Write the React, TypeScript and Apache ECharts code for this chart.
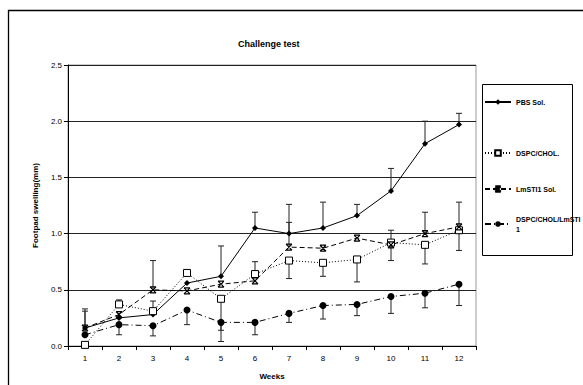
import React, { useEffect, useRef } from "react";
import * as echarts from "echarts";

const weeks = ["1", "2", "3", "4", "5", "6", "7", "8", "9", "10", "11", "12"];
const seriesNames = ["PBS Sol.", "DSPC/CHOL.", "LmSTI1 Sol.", "DSPC/CHOL/LmSTI1"];

const pbs = [0.16, 0.25, 0.28, 0.56, 0.62, 1.05, 1.0, 1.05, 1.16, 1.38, 1.8, 1.97];
const dspcChol = [0.01, 0.37, 0.31, 0.65, 0.42, 0.64, 0.76, 0.74, 0.77, 0.92, 0.9, 1.03];
const lmsti = [0.16, 0.28, 0.5, 0.49, 0.55, 0.58, 0.88, 0.87, 0.96, 0.9, 1.0, 1.06];
const dspcLmsti = [0.1, 0.19, 0.18, 0.32, 0.21, 0.21, 0.29, 0.36, 0.37, 0.44, 0.47, 0.55];

// error bar ends (null = no visible bar)
const pbsErr = [0.33, null, null, null, 0.89, 1.19, 1.26, 1.28, 1.26, 1.58, 2.0, 2.07];
const dspcCholErr = [null, 0.41, 0.4, 0.68, 0.14, 0.75, 0.6, 0.62, 0.57, 0.76, 0.73, 0.85];
const lmstiErr = [0.31, null, 0.76, null, null, null, 1.1, null, null, 1.03, 1.19, 1.28];
const dspcLmstiErr = [null, 0.1, 0.09, 0.19, 0.04, 0.1, 0.21, 0.24, 0.27, 0.29, 0.34, 0.36];

const yTicks = [0, 0.5, 1.0, 1.5, 2.0, 2.5];

const FONT = "Liberation Sans";

function errData(vals: number[], errs: (number | null)[]) {
  const out: number[][] = [];
  vals.forEach((v, i) => {
    const e = errs[i];
    if (e !== null && e !== undefined) out.push([i, v, e]);
  });
  return out;
}

function errSeries(name: string, vals: number[], errs: (number | null)[]) {
  return {
    type: "custom",
    name,
    z: 1,
    silent: true,
    data: errData(vals, errs),
    renderItem: (params: any, api: any) => {
      const x = api.value(0);
      const y = api.value(1);
      const e = api.value(2);
      const p1 = api.coord([x, y]);
      const p2 = api.coord([x, e]);
      const style = { stroke: "#222", lineWidth: 1 };
      return {
        type: "group",
        children: [
          { type: "line", shape: { x1: p1[0], y1: p1[1], x2: p2[0], y2: p2[1] }, style },
          { type: "line", shape: { x1: p2[0] - 3, y1: p2[1], x2: p2[0] + 3, y2: p2[1] }, style },
        ],
      };
    },
  };
}

export default function App() {
  const ref = useRef<HTMLDivElement>(null);
  useEffect(() => {
    if (!ref.current) return;
    const chart = echarts.init(ref.current, null, { renderer: "svg" });
    const legendTops = [97, 148, 184, 214];
    const option: any = {
      animation: false,
      backgroundColor: "#fff",
      title: {
        text: "Challenge test",
        left: 233,
        top: 34,
        textStyle: { fontFamily: FONT, fontSize: 9, fontWeight: "bold", color: "#000" },
      },
      legend: seriesNames.map((n, i) => ({
        data: [n],
        orient: "vertical",
        left: 484,
        top: legendTops[i],
        itemWidth: 26,
        itemHeight: 7,
        itemGap: 0,
        padding: 0,
        formatter: (name: string) => (name === "DSPC/CHOL/LmSTI1" ? "DSPC/CHOL/LmSTI\n1" : name),
        textStyle: { fontFamily: FONT, fontSize: 7, fontWeight: "bold", color: "#000", lineHeight: 10 },
      })),
      graphic: [
        {
          type: "rect",
          shape: { x: 8.5, y: 10.5, width: 620, height: 420 },
          style: { fill: "none", stroke: "#000", lineWidth: 1.3 },
          silent: true,
        },
        {
          type: "rect",
          shape: { x: 482.5, y: 84.5, width: 90, height: 171 },
          style: { fill: "none", stroke: "#000", lineWidth: 1 },
          silent: true,
        },
      ],
      grid: {
        left: 68,
        top: 65,
        width: 408,
        height: 290,
        show: true,
        borderColor: "#999",
        borderWidth: 1,
        backgroundColor: "#fff",
      },
      xAxis: {
        type: "category",
        data: weeks,
        boundaryGap: true,
        name: "Weeks",
        nameLocation: "middle",
        nameGap: 26,
        nameTextStyle: { fontFamily: FONT, fontSize: 8, fontWeight: "bold", color: "#000" },
        axisLine: { lineStyle: { color: "#000", width: 1 } },
        axisTick: { show: true, alignWithLabel: false, length: 4, lineStyle: { color: "#000" } },
        axisLabel: { fontFamily: FONT, fontSize: 8, color: "#000", margin: 8 },
        splitLine: { show: false },
      },
      yAxis: {
        type: "value",
        min: yTicks[0],
        max: yTicks[yTicks.length - 1],
        interval: 0.5,
        name: "Footpad swelling(mm)",
        nameLocation: "middle",
        nameGap: 26,
        nameRotate: 90,
        nameTextStyle: { fontFamily: FONT, fontSize: 8, fontWeight: "bold", color: "#000" },
        axisLine: { show: true, lineStyle: { color: "#000", width: 1 } },
        axisTick: { show: true, length: 4, lineStyle: { color: "#000" } },
        axisLabel: {
          fontFamily: FONT,
          fontSize: 8,
          color: "#000",
          margin: 6,
          formatter: (v: number) => v.toFixed(1),
        },
        splitLine: { show: true, lineStyle: { color: "#222", width: 1 } },
      },
      series: [
        errSeries("err1", pbs, pbsErr),
        errSeries("err2", dspcChol, dspcCholErr),
        errSeries("err3", lmsti, lmstiErr),
        errSeries("err4", dspcLmsti, dspcLmstiErr),
        {
          type: "line",
          name: seriesNames[0],
          data: pbs,
          z: 3,
          symbol: "diamond",
          symbolSize: 6,
          lineStyle: { color: "#000", width: 1, type: "solid" },
          itemStyle: { color: "#000" },
        },
        {
          type: "line",
          name: seriesNames[1],
          data: dspcChol,
          z: 3,
          symbol: "rect",
          symbolSize: 7,
          lineStyle: { color: "#000", width: 1, type: [1, 2] },
          itemStyle: { color: "#fff", borderColor: "#000", borderWidth: 1 },
        },
        {
          type: "line",
          name: seriesNames[2],
          data: lmsti,
          z: 3,
          symbol: "path://M0,0L10,10M10,0L0,10M0,0L10,0M0,10L10,10",
          symbolSize: 6,
          lineStyle: { color: "#000", width: 1, type: [5, 3] },
          itemStyle: { color: "transparent", borderColor: "#000", borderWidth: 1.2 },
        },
        {
          type: "line",
          name: seriesNames[3],
          data: dspcLmsti,
          z: 3,
          symbol: "circle",
          symbolSize: 7,
          lineStyle: { color: "#000", width: 1, type: [6, 3, 1, 3] },
          itemStyle: { color: "#000" },
        },
      ],
    };
    chart.setOption(option);
    return () => chart.dispose();
  }, []);
  return (
    <div
      ref={ref}
      style={{ position: "fixed", left: 0, top: 0, width: 583, height: 385 }}
    />
  );
}
